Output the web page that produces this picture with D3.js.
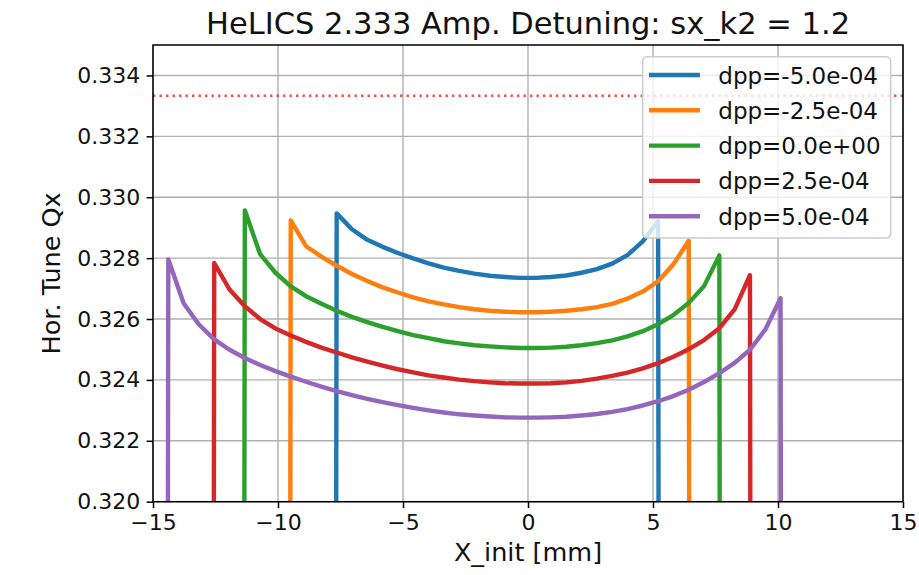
<!DOCTYPE html>
<html>
<head>
<meta charset="utf-8">
<script src="https://cdn.jsdelivr.net/npm/d3@7"></script>
<style>
  html, body { margin: 0; padding: 0; background: #fff; }
  svg { display: block; font-family: "DejaVu Sans", sans-serif; }
</style>
</head>
<body>
<svg id="chart" width="919" height="575"></svg>
<script>
// Initial horizontal amplitude grid [mm]
const xInit = [-15, -14.388, -13.776, -13.163, -12.551, -11.939, -11.327, -10.714, -10.102, -9.490,
  -8.878, -8.265, -7.653, -7.041, -6.429, -5.816, -5.204, -4.592, -3.980, -3.367,
  -2.755, -2.143, -1.531, -0.918, -0.306, 0.306, 0.918, 1.531, 2.143, 2.755,
  3.367, 3.980, 4.592, 5.204, 5.816, 6.429, 7.041, 7.653, 8.265, 8.878,
  9.490, 10.102, 10.714, 11.327, 11.939, 12.551, 13.163, 13.776, 14.388, 15];

// Horizontal tune per particle; 0 marks a particle that was lost
const qxDppM50 = [0, 0, 0, 0, 0, 0, 0, 0, 0, 0,
  0, 0, 0.32947, 0.32895, 0.32860, 0.32837, 0.32817, 0.32799, 0.32783, 0.32769,
  0.32758, 0.32749, 0.32742, 0.32738, 0.32735, 0.32735, 0.32738, 0.32743, 0.32752, 0.32764,
  0.32782, 0.32810, 0.32855, 0.32921, 0, 0, 0, 0, 0, 0,
  0, 0, 0, 0, 0, 0, 0, 0, 0, 0];
const qxDppM25 = [0, 0, 0, 0, 0, 0, 0, 0, 0, 0.32924,
  0.32839, 0.32805, 0.32775, 0.32748, 0.32725, 0.32704, 0.32687, 0.32671, 0.32658, 0.32648,
  0.32639, 0.32632, 0.32627, 0.32624, 0.32622, 0.32622, 0.32624, 0.32627, 0.32632, 0.32639,
  0.32650, 0.32667, 0.32690, 0.32724, 0.32780, 0.32857, 0, 0, 0, 0,
  0, 0, 0, 0, 0, 0, 0, 0, 0, 0];
const qxDpp0 = [0, 0, 0, 0, 0, 0, 0.32957, 0.32813, 0.32752, 0.32707,
  0.32675, 0.32650, 0.32627, 0.32607, 0.32590, 0.32574, 0.32560, 0.32547, 0.32537, 0.32527,
  0.32520, 0.32514, 0.32510, 0.32507, 0.32505, 0.32505, 0.32506, 0.32509, 0.32514, 0.32521,
  0.32530, 0.32543, 0.32560, 0.32583, 0.32613, 0.32653, 0.32708, 0.32809, 0, 0,
  0, 0, 0, 0, 0, 0, 0, 0, 0, 0];
const qxDppP25 = [0, 0, 0, 0, 0.32784, 0.32697, 0.32642, 0.32600, 0.32569, 0.32546,
  0.32525, 0.32506, 0.32490, 0.32474, 0.32460, 0.32447, 0.32435, 0.32425, 0.32415, 0.32408,
  0.32401, 0.32396, 0.32392, 0.32389, 0.32388, 0.32388, 0.32389, 0.32392, 0.32397, 0.32404,
  0.32413, 0.32424, 0.32438, 0.32455, 0.32476, 0.32501, 0.32531, 0.32570, 0.32632, 0.32744,
  0, 0, 0, 0, 0, 0, 0, 0, 0, 0];
const qxDppP50 = [0, 0.32796, 0.32652, 0.32582, 0.32533, 0.32499, 0.32472, 0.32449, 0.32429, 0.32411,
  0.32394, 0.32378, 0.32363, 0.32350, 0.32338, 0.32327, 0.32317, 0.32308, 0.32300, 0.32293,
  0.32287, 0.32283, 0.32280, 0.32277, 0.32276, 0.32276, 0.32277, 0.32279, 0.32283, 0.32288,
  0.32295, 0.32304, 0.32316, 0.32330, 0.32347, 0.32368, 0.32393, 0.32422, 0.32456, 0.32499,
  0.32565, 0.32668, 0, 0, 0, 0, 0, 0, 0, 0];

const seriesLabels = ["dpp=-5.0e-04", "dpp=-2.5e-04", "dpp=0.0e+00", "dpp=2.5e-04", "dpp=5.0e-04"];
const seriesValues = [qxDppM50, qxDppM25, qxDpp0, qxDppP25, qxDppP50];
const seriesColors = ["#1f77b4", "#ff7f0e", "#2ca02c", "#d62728", "#9467bd"];

const xTicks = [-15, -10, -5, 0, 5, 10, 15];
const yTicks = [0.320, 0.322, 0.324, 0.326, 0.328, 0.330, 0.332, 0.334];
const resonanceQx = 1 / 3;

const titleText = "HeLICS 2.333 Amp. Detuning: sx_k2 = 1.2";
const xLabelText = "X_init [mm]";
const yLabelText = "Hor. Tune Qx";

// ---- layout ----
const plot = { left: 153, right: 903, top: 45, bottom: 501.7 };
const svg = d3.select("#chart");

const x = d3.scaleLinear().domain([-15, 15]).range([plot.left, plot.right]);
const y = d3.scaleLinear().domain([0.320, 0.335]).range([plot.bottom, plot.top]);

svg.append("defs").append("clipPath").attr("id", "plotClip")
  .append("rect")
  .attr("x", plot.left).attr("y", plot.top)
  .attr("width", plot.right - plot.left).attr("height", plot.bottom - plot.top);

// grid
const grid = svg.append("g");
grid.selectAll("line.gx").data(xTicks).join("line")
  .attr("x1", d => x(d)).attr("x2", d => x(d))
  .attr("y1", plot.top).attr("y2", plot.bottom)
  .attr("stroke", "#b0b0b0").attr("stroke-width", 1.4);
grid.selectAll("line.gy").data(yTicks).join("line")
  .attr("x1", plot.left).attr("x2", plot.right)
  .attr("y1", d => y(d)).attr("y2", d => y(d))
  .attr("stroke", "#b0b0b0").attr("stroke-width", 1.4);

// tune curves
const line = d3.line().x(d => x(d[0])).y(d => y(d[1]));
const curves = svg.append("g").attr("clip-path", "url(#plotClip)");
seriesValues.forEach((vals, i) => {
  curves.append("path")
    .datum(xInit.map((xv, k) => [xv, vals[k]]))
    .attr("d", line)
    .attr("fill", "none")
    .attr("stroke", seriesColors[i])
    .attr("stroke-width", 4.4)
    .attr("stroke-linejoin", "round");
});

// third-order resonance
curves.append("line")
  .attr("x1", plot.left).attr("x2", plot.right)
  .attr("y1", y(resonanceQx)).attr("y2", y(resonanceQx))
  .attr("stroke", "red").attr("stroke-opacity", 0.7)
  .attr("stroke-width", 2.4).attr("stroke-dasharray", "2.4,4.1");

// axes
const xAxis = d3.axisBottom(x).tickValues(xTicks).tickSize(6.4).tickPadding(6).tickFormat(d3.format("d"));
const yAxis = d3.axisLeft(y).tickValues(yTicks).tickSize(6.4).tickPadding(6.4).tickFormat(d3.format(".3f"));

const gx = svg.append("g").attr("transform", `translate(0,${plot.bottom})`).call(xAxis);
const gy = svg.append("g").attr("transform", `translate(${plot.left},0)`).call(yAxis);
[gx, gy].forEach(g => {
  g.select(".domain").remove();
  g.selectAll(".tick line").attr("stroke", "#000").attr("stroke-width", 1.5);
  g.selectAll(".tick text").attr("fill", "#111")
    .style("font-family", "'DejaVu Sans', sans-serif").style("font-size", "22px");
});

// frame
svg.append("rect")
  .attr("x", plot.left).attr("y", plot.top)
  .attr("width", plot.right - plot.left).attr("height", plot.bottom - plot.top)
  .attr("fill", "none").attr("stroke", "#000").attr("stroke-width", 1.5);

// titles
svg.append("text")
  .attr("x", (plot.left + plot.right) / 2).attr("y", 34)
  .attr("text-anchor", "middle").attr("fill", "#111")
  .style("font-size", "30.5px").text(titleText);
svg.append("text")
  .attr("x", (plot.left + plot.right) / 2).attr("y", 561)
  .attr("text-anchor", "middle").attr("fill", "#111")
  .style("font-size", "25.5px").text(xLabelText);
svg.append("text")
  .attr("transform", `translate(60,${(plot.top + plot.bottom) / 2}) rotate(-90)`)
  .attr("text-anchor", "middle").attr("fill", "#111")
  .style("font-size", "25.5px").text(yLabelText);

// legend
const legend = svg.append("g");
legend.append("rect")
  .attr("x", 642.7).attr("y", 56.7).attr("width", 248).attr("height", 181.3)
  .attr("rx", 4.4).attr("ry", 4.4)
  .attr("fill", "#fff").attr("fill-opacity", 0.8)
  .attr("stroke", "#cccccc").attr("stroke-width", 1.5);
seriesLabels.forEach((label, i) => {
  const ly = 75 + i * 35.3;
  legend.append("line")
    .attr("x1", 649).attr("x2", 700).attr("y1", ly).attr("y2", ly)
    .attr("stroke", seriesColors[i]).attr("stroke-width", 4.4);
  legend.append("text")
    .attr("x", 718.3).attr("y", ly + 8.5)
    .attr("fill", "#111").style("font-size", "23px").text(label);
});
</script>
</body>
</html>
